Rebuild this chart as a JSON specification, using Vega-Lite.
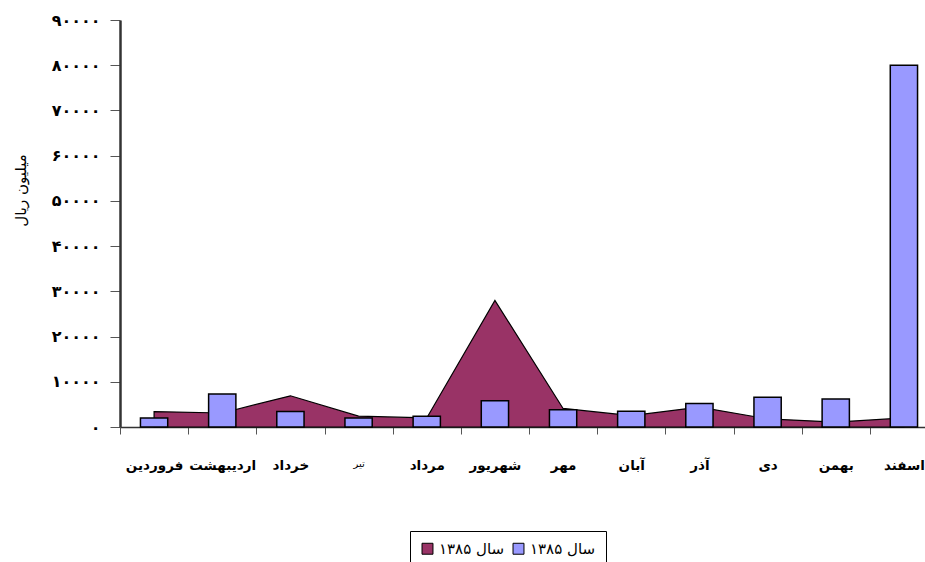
{
  "$schema": "https://vega.github.io/schema/vega-lite/v6.json",
  "autosize": "none",
  "width": 805,
  "height": 407,
  "padding": {"left": 120, "top": 20, "right": 0, "bottom": 135},
  "background": "white",
  "config": {"view": {"stroke": null}},
  "data": {"values": [
    {"month": "فروردین", "a": 3400, "b": 2000},
    {"month": "اردیبهشت", "a": 3100, "b": 7300},
    {"month": "خرداد", "a": 6900, "b": 3400},
    {"month": "تیر", "a": 2400, "b": 2000},
    {"month": "مرداد", "a": 2000, "b": 2400},
    {"month": "شهریور", "a": 28000, "b": 5800},
    {"month": "مهر", "a": 4100, "b": 3800},
    {"month": "آبان", "a": 2500, "b": 3500},
    {"month": "آذر", "a": 4400, "b": 5200},
    {"month": "دی", "a": 1800, "b": 6600},
    {"month": "بهمن", "a": 1100, "b": 6200},
    {"month": "اسفند", "a": 2000, "b": 80000}
  ]},
  "encoding": {
    "x": {
      "field": "month", "type": "nominal", "sort": null,
      "scale": {"type": "band", "range": [0, 818], "paddingInner": 0, "paddingOuter": 0},
      "axis": {
        "title": null, "labelAngle": 0, "tickBand": "extent",
        "domainColor": "#333333", "domainWidth": 1.5,
        "tickColor": "#555555", "tickSize": 7,
        "labelFont": "DejaVu Sans", "labelFontSize": {"condition": {"test": "datum.value == 'تیر'", "value": 10}, "value": 13.5},
        "labelFontWeight": {"condition": {"test": "datum.value == 'تیر'", "value": "normal"}, "value": "bold"},
        "labelColor": "black", "labelPadding": 24, "labelBaseline": "top", "labelOverlap": false
      }
    }
  },
  "layer": [
    {
      "mark": {"type": "area", "stroke": "black", "strokeWidth": 1.2, "opacity": 1},
      "encoding": {
        "x": {"field": "month", "type": "nominal", "sort": null, "bandPosition": 0.5},
        "y": {
          "field": "a", "type": "quantitative",
          "scale": {"domain": [0, 90000], "nice": false},
          "axis": {
            "title": "میلیون ریال", "titleFont": "DejaVu Sans", "titleFontSize": 15, "titleFontWeight": "normal",
            "titleColor": "black", "titleX": -100, "titleY": 170, "titleAngle": 270, "titleAlign": "center", "titleBaseline": "middle",
            "values": [0, 10000, 20000, 30000, 40000, 50000, 60000, 70000, 80000, 90000],
            "labelExpr": "datum.value == 0 ? '۰' : ['', '۱', '۲', '۳', '۴', '۵', '۶', '۷', '۸', '۹'][datum.value / 10000] + '۰۰۰۰'",
            "labelFont": "DejaVu Sans", "labelFontSize": 16, "labelFontWeight": "bold", "labelColor": "black",
            "grid": false, "domainColor": "#333333", "domainWidth": 2.5,
            "tickColor": "#555555", "tickSize": 10, "labelPadding": 10
          }
        },
        "color": {"datum": "a", "type": "nominal",
          "scale": {"domain": ["a", "b"], "range": ["#993366", "#9999FF"]},
          "legend": {
            "orient": "none", "legendX": 290, "legendY": 511, "direction": "horizontal",
            "title": null, "labelExpr": "'سال ۱۳۸۵'",
            "symbolType": "square", "symbolSize": 120, "symbolStrokeColor": "black", "symbolStrokeWidth": 1, "symbolOpacity": 1,
            "labelFont": "DejaVu Sans", "labelFontSize": 15, "labelColor": "black",
            "labelOffset": 4, "columnPadding": 6,
            "strokeColor": "black", "fillColor": "white", "padding": 10
          }
        }
      }
    },
    {
      "mark": {"type": "bar", "width": {"band": 0.4}, "stroke": "black", "strokeWidth": 1.5},
      "encoding": {
        "y": {"field": "b", "type": "quantitative"},
        "color": {"datum": "b", "type": "nominal"}
      }
    }
  ]
}
